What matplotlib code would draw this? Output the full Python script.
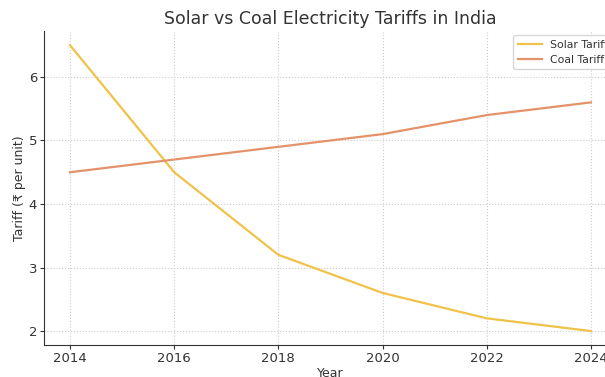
import matplotlib.pyplot as plt

# tariffs in rupees per unit
years = [2014, 2016, 2018, 2020, 2022, 2024]
solar_tariff = [6.5, 4.5, 3.2, 2.6, 2.2, 2.0]
coal_tariff = [4.5, 4.7, 4.9, 5.1, 5.4, 5.6]

fig = plt.figure(figsize=(6.05, 3.77), dpi=100)
ax = fig.add_axes([0.0727, 0.084, 0.947, 0.834])

ax.plot(years, solar_tariff, color="#f0c24a", linewidth=1.6, label="Solar Tariff")
ax.plot(years, coal_tariff, color="#e3926a", linewidth=1.6, label="Coal Tariff")

ax.set_title("Solar vs Coal Electricity Tariffs in India", fontsize=12.5, color="#333333", pad=5)
ax.set_xlabel("Year", fontsize=9, color="#333333", labelpad=1)
ax.set_ylabel("Tariff (₹ per unit)", fontsize=9, color="#333333", labelpad=2)
ax.set_xticks(years)
ax.set_yticks([2, 3, 4, 5, 6])
ax.tick_params(labelsize=9.5, colors="#333333", length=3, pad=2)
ax.grid(True, linestyle=":", color="#cccccc", linewidth=0.8)
ax.spines["top"].set_visible(False)
ax.spines["right"].set_visible(False)
ax.spines["left"].set_color("#333333")
ax.spines["bottom"].set_color("#333333")
ax.legend(loc="upper right", fontsize=7.8, labelcolor="#333333",
          borderaxespad=0.4, handlelength=2.2)

fig.savefig("out.png", dpi=100)
